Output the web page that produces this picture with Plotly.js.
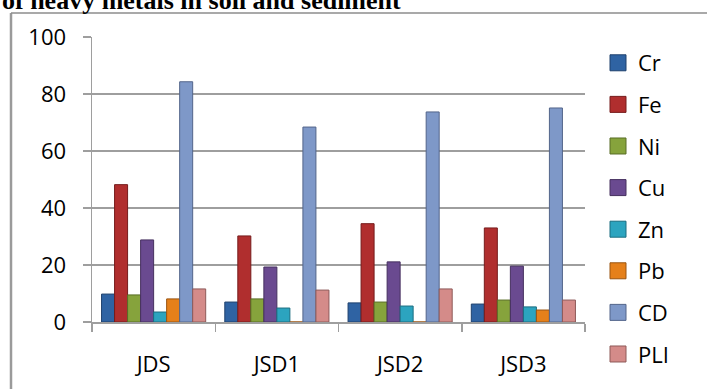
<!DOCTYPE html>
<html>
<head>
<meta charset="utf-8">
<script src="https://cdn.plot.ly/plotly-3.0.1.min.js"></script>
<style>
  html, body { margin: 0; padding: 0; background: #ffffff; }
  #chart { width: 707px; height: 389px; }
</style>
</head>
<body>
<div id="chart"></div>
<script>
// Sampling sites
const sites = ['JDS', 'JSD1', 'JSD2', 'JSD3'];

// Metal / index names (one bar series each)
const metals = ['Cr', 'Fe', 'Ni', 'Cu', 'Zn', 'Pb', 'CD', 'PLI'];

// Values per metal, ordered as the sites above
const crValues  = [9.8, 7.0, 6.7, 6.3];
const feValues  = [48.2, 30.2, 34.5, 33.0];
const niValues  = [9.5, 8.1, 7.0, 7.7];
const cuValues  = [28.8, 19.3, 21.1, 19.6];
const znValues  = [3.5, 4.9, 5.6, 5.3];
const pbValues  = [8.1, 0, 0, 4.2];
const cdValues  = [84.3, 68.4, 73.7, 75.1];
const pliValues = [11.6, 11.2, 11.6, 7.7];

const yTickValues = [0, 20, 40, 60, 80, 100];

const seriesValues = [crValues, feValues, niValues, cuValues, znValues, pbValues, cdValues, pliValues];

const fillColors = ['#2f63a3', '#b02e2e', '#86a33c', '#6a4a90', '#2ca4bf', '#e5801a', '#7e98c8', '#d48b89'];
const edgeColors = ['#1f416d', '#761c1c', '#596d26', '#46305f', '#1b6d80', '#9a5410', '#53658a', '#8e5a59'];

const uiFont = 'Open Sans, Noto Sans, sans-serif';
const uiSize = 22;

// Bar series (legend entries come from the square-marker keys below)
const barTraces = metals.map((name, i) => ({
  type: 'bar',
  name: name,
  x: sites,
  y: seriesValues[i],
  legendgroup: name,
  showlegend: false,
  marker: {
    color: fillColors[i],
    line: { color: edgeColors[i], width: 1 }
  },
  hoverinfo: 'x+y+name'
}));

// Legend keys: larger square swatches than the default bar swatch
const keyTraces = metals.map((name, i) => ({
  type: 'scatter',
  mode: 'markers',
  name: name,
  x: [null],
  y: [null],
  legendgroup: name,
  showlegend: true,
  marker: {
    symbol: 'square',
    size: 16,
    color: fillColors[i],
    line: { color: edgeColors[i], width: 1 }
  },
  hoverinfo: 'skip'
}));

const gridGray = '#9e9e9e';

const layout = {
  width: 707,
  height: 389,
  paper_bgcolor: '#ffffff',
  plot_bgcolor: '#ffffff',
  margin: { l: 92, r: 122, t: 37, b: 67 },
  barmode: 'group',
  bargap: 0.155,
  bargroupgap: 0,
  font: { family: uiFont, size: uiSize, color: '#000000' },
  showlegend: true,
  legend: {
    x: 1.0264,
    xanchor: 'left',
    y: 0.9825,
    yanchor: 'top',
    maxheight: 389,
    itemsizing: 'trace',
    font: { family: uiFont, size: uiSize, color: '#000000' },
    tracegroupgap: 10,
    bgcolor: 'rgba(0,0,0,0)'
  },
  xaxis: {
    type: 'category',
    showline: true,
    linecolor: gridGray,
    linewidth: 1.5,
    ticks: 'outside',
    tickson: 'boundaries',
    ticklen: 8,
    tickcolor: gridGray,
    tickwidth: 1.5,
    showgrid: false,
    ticklabelstandoff: 22,
    tickfont: { family: uiFont, size: uiSize }
  },
  yaxis: {
    range: [0, 100],
    tickvals: yTickValues,
    showline: true,
    linecolor: gridGray,
    linewidth: 1.5,
    ticks: 'outside',
    ticklen: 8,
    tickcolor: gridGray,
    tickwidth: 1.5,
    showgrid: true,
    gridcolor: gridGray,
    gridwidth: 1.5,
    zeroline: false,
    ticklabelstandoff: 12,
    tickfont: { family: uiFont, size: uiSize }
  },
  shapes: [
    // chart frame: left edge and top edge
    {
      type: 'line', xref: 'paper', yref: 'paper',
      x0: -0.1643, x1: -0.1643, y0: -0.3, y1: 1.0842,
      line: { color: '#9a9a9a', width: 2.5 }
    },
    {
      type: 'line', xref: 'paper', yref: 'paper',
      x0: -0.1643, x1: 1.3, y0: 1.0842, y1: 1.0842,
      line: { color: '#8c8c8c', width: 1.5 }
    }
  ],
  annotations: [
    {
      xref: 'paper', yref: 'paper',
      x: -0.1866, xanchor: 'left',
      y: 1.1298, yanchor: 'middle',
      text: '<b>of heavy metals in soil and sediment</b>',
      showarrow: false,
      font: { family: 'Liberation Serif, Times New Roman, serif', size: 26, color: '#000000' }
    }
  ]
};

Plotly.newPlot('chart', barTraces.concat(keyTraces), layout, { displayModeBar: false, staticPlot: true });
</script>
</body>
</html>
